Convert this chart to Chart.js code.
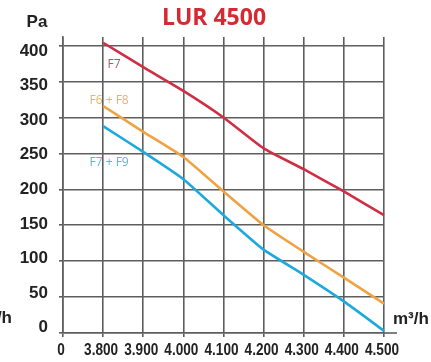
<!DOCTYPE html>
<html>
<head>
<meta charset="utf-8">
<script src="https://cdn.jsdelivr.net/npm/chart.js@4/dist/chart.umd.min.js"></script>
<style>
  html, body { margin: 0; padding: 0; background: #fff; }
  canvas { display: block; }
</style>
</head>
<body>
<canvas id="fan-chart" width="431" height="362"></canvas>
<script>
// airflow (m3/h) categories and pressure curves (Pa)
const flowLabels = ['0', '3.800', '3.900', '4.000', '4.100', '4.200', '4.300', '4.400', '4.500'];
const pressureTicks = [0, 50, 100, 150, 200, 250, 300, 350, 400];

const f7 = [null, 404, 370, 337, 300, 257, 228, 197, 164];
const f6f8 = [null, 316, 280, 245, 197, 150, 113, 77, 41];
const f7f9 = [null, 288, 252, 214, 164, 116, 81, 44, 3];

const gridColor = '#5e5e5e';
const labelFont = '"Liberation Sans", Arial, sans-serif';

// titles, units, curve names and the condensed flow labels
const textPlugin = {
    id: 'texts',
    afterDraw(chart) {
        const { ctx, chartArea, scales } = chart;
        const x = scales.x, y = scales.y;
        ctx.save();

        // x axis line runs a bit past the last category
        ctx.strokeStyle = gridColor;
        ctx.lineWidth = 1.6;
        ctx.beginPath();
        ctx.moveTo(chartArea.right, chartArea.bottom);
        ctx.lineTo(chartArea.right + 13, chartArea.bottom);
        ctx.stroke();

        ctx.textBaseline = 'middle';

        // flow labels, squeezed horizontally like a narrow face
        ctx.fillStyle = '#222';
        ctx.font = 'bold 17px ' + labelFont;
        ctx.textAlign = 'center';
        flowLabels.forEach((lbl, i) => {
            ctx.save();
            ctx.translate(x.getPixelForValue(i) - 2, chartArea.bottom + 17);
            ctx.scale(0.8, 1);
            ctx.fillText(lbl, 0, 0);
            ctx.restore();
        });

        ctx.fillStyle = '#d42a33';
        ctx.font = 'bold 23px "Open Sans", sans-serif';
        ctx.fillText('LUR 4500', 214, 18);

        ctx.fillStyle = '#222';
        ctx.font = 'bold 17px ' + labelFont;
        ctx.fillText('Pa', 37, 22);

        ctx.textAlign = 'left';
        ctx.fillText('m³/h', chartArea.right + 9, 319);
        ctx.textAlign = 'right';
        ctx.fillText('m³/h', 12, 318);

        ctx.font = '12px "Open Sans", sans-serif';
        ctx.textAlign = 'center';
        ctx.fillStyle = '#b0566a';
        ctx.fillText('F7', x.getPixelForValue(1) + 11, y.getPixelForValue(374));
        ctx.fillStyle = '#e6b07a';
        ctx.fillText('F6 + F8', x.getPixelForValue(1) + 6, y.getPixelForValue(324));
        ctx.fillStyle = '#5db6d6';
        ctx.fillText('F7 + F9', x.getPixelForValue(1) + 6, y.getPixelForValue(237));

        ctx.restore();
    }
};

const setTicks = (scale, values) => {
    scale.ticks = values.map(v => ({ value: v }));
};

new Chart(document.getElementById('fan-chart'), {
    type: 'line',
    data: {
        labels: flowLabels,
        datasets: [{
            label: 'F7',
            data: f7,
            borderColor: '#cf2e44',
            borderWidth: 2.6,
            pointRadius: 0,
            tension: 0.15
        }, {
            label: 'F6 + F8',
            data: f6f8,
            borderColor: '#f0a243',
            borderWidth: 2.6,
            pointRadius: 0,
            tension: 0.15
        }, {
            label: 'F7 + F9',
            data: f7f9,
            borderColor: '#1ea9dd',
            borderWidth: 2.6,
            pointRadius: 0,
            tension: 0.15
        }]
    },
    options: {
        responsive: false,
        animation: false,
        devicePixelRatio: 1,
        layout: { padding: { top: 37, right: 47, bottom: 0, left: 0 } },
        plugins: {
            legend: { display: false },
            tooltip: { enabled: false }
        },
        scales: {
            x: {
                type: 'category',
                offset: false,
                afterFit: s => { s.height = 29; },
                grid: { color: gridColor, lineWidth: 1.6, tickLength: 4 },
                border: { color: gridColor, width: 1.6 },
                ticks: { display: false, autoSkip: false }
            },
            y: {
                position: 'left',
                weight: 0,
                min: 0,
                max: 412,
                afterBuildTicks: s => setTicks(s, pressureTicks),
                afterFit: s => { s.width = 4; },
                grid: { color: gridColor, lineWidth: 1.6, tickLength: 4 },
                border: { color: gridColor, width: 1.6 },
                ticks: { display: false }
            },
            // tick labels sit on a slightly tighter spacing than the grid
            yLabels: {
                type: 'linear',
                position: 'left',
                weight: 1,
                min: -7.7,
                max: 420,
                afterBuildTicks: s => setTicks(s, pressureTicks),
                afterFit: s => { s.width = 59; },
                grid: { display: false, drawTicks: false },
                border: { display: false },
                ticks: {
                    color: '#222',
                    font: { family: labelFont, size: 17, weight: 'bold' },
                    padding: 11
                }
            }
        }
    },
    plugins: [textPlugin]
});
</script>
</body>
</html>
